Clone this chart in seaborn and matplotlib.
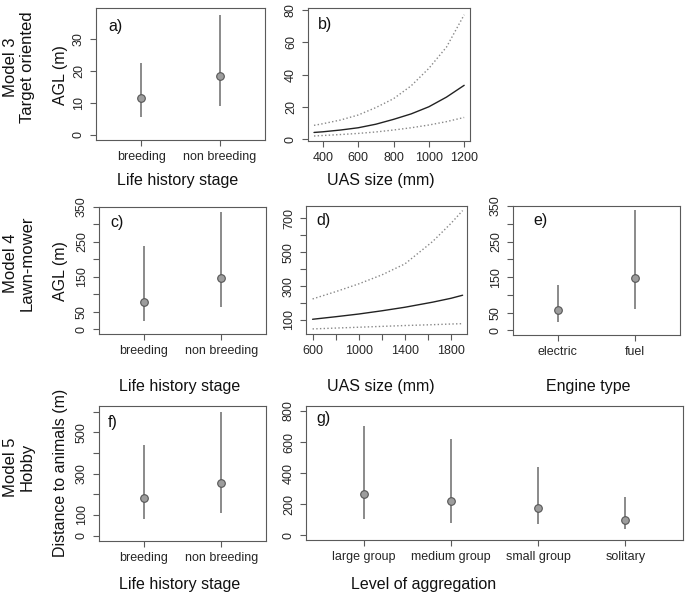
import matplotlib
matplotlib.use("Agg")
import matplotlib.pyplot as plt
import seaborn as sns
import numpy as np

# ---- data ----
# a) Model 3, life history stage
stage_labels = ["breeding", "non breeding"]
a_mean = [11.5, 18.5]
a_low = [5.5, 9.0]
a_high = [22.5, 37.5]

# b) Model 3, UAS size
b_size = [350, 400, 500, 600, 700, 800, 900, 1000, 1100, 1200]
b_mean = [4.1, 4.5, 5.6, 7.0, 9.2, 12.2, 15.6, 20.0, 26.0, 33.3]
b_upper = [8.5, 9.5, 11.8, 14.9, 19.5, 25.0, 33.0, 43.8, 57.0, 77.0]
b_lower = [1.9, 2.2, 2.8, 3.5, 4.4, 5.6, 7.0, 8.7, 10.8, 13.4]

# c) Model 4, life history stage
c_mean = [78, 147]
c_low = [25, 63]
c_high = [238, 336]

# d) Model 4, UAS size
d_size = [600, 800, 1000, 1200, 1400, 1640, 1800, 1900]
d_mean = [104, 119, 135, 154, 175, 205, 228, 246]
d_upper = [224, 267, 313, 366, 431, 563, 671, 746]
d_lower = [47, 52, 57, 62, 67, 72, 76, 78]

# e) Model 4, engine type
engine_labels = ["electric", "fuel"]
e_mean = [57, 146]
e_low = [24, 60]
e_high = [127, 339]

# f) Model 5, life history stage
f_mean = [180, 254]
f_low = [81, 110]
f_high = [440, 597]

# g) Model 5, level of aggregation
group_labels = ["large group", "medium group", "small group", "solitary"]
g_mean = [266, 221, 178, 99]
g_low = [103, 82, 73, 43]
g_high = [704, 620, 438, 245]

# ---- styling ----
sns.set_style("white")
plt.rcParams['font.family'] = ['Liberation Sans', 'DejaVu Sans']

W, H = 685, 595
fig = plt.figure(figsize=(W / 100, H / 100), dpi=100, facecolor='white')

box_color = '#5a5a5a'
tick_fs = 9
label_fs = 11.5


def make_ax(x0, y0, x1, y1):
    # pixel box (top-left origin) -> figure axes
    ax = fig.add_axes([x0 / W, 1 - y1 / H, (x1 - x0) / W, (y1 - y0) / H])
    for sp in ax.spines.values():
        sp.set_visible(True)
        sp.set_color(box_color)
        sp.set_linewidth(0.8)
    ax.tick_params(axis='both', direction='out', length=4, width=0.8,
                   color=box_color, labelsize=tick_fs, pad=4,
                   left=True, bottom=True)
    return ax


def set_yticks(ax, ticks, shown):
    ax.set_yticks(ticks)
    ax.set_yticklabels([str(t) if t in shown else "" for t in ticks],
                       rotation=90, va='center')


def set_xticks(ax, ticks, labels):
    ax.set_xticks(ticks)
    ax.set_xticklabels(labels)


def ci_plot(ax, mean, low, high):
    pos = np.arange(1, len(mean) + 1)
    ax.vlines(pos, low, high, color='#777777', linewidth=1.2, zorder=2)
    sns.scatterplot(x=pos, y=mean, ax=ax, s=30, color='#9d9d9d',
                    edgecolor='#555555', linewidth=0.8, zorder=3)
    n = len(mean)
    pad = 0.04 * n
    ax.set_xlim(0.5 - pad, n + 0.5 + pad)


def curve_plot(ax, x, mean, lower, upper):
    sns.lineplot(x=x, y=mean, ax=ax, color='#222222', linewidth=1.0)
    sns.lineplot(x=x, y=upper, ax=ax, color='#888888', linewidth=1.0, linestyle=':')
    sns.lineplot(x=x, y=lower, ax=ax, color='#888888', linewidth=1.0, linestyle=':')


def ftext(x, y, s, **kw):
    fig.text(x / W, 1 - y / H, s, **kw)


# ---- row 1: Model 3 ----
ax_a = make_ax(96, 8, 265, 140)
ci_plot(ax_a, a_mean, a_low, a_high)
ax_a.set_ylim(-1.6, 39.7)
set_yticks(ax_a, [0, 10, 20, 30], [0, 10, 20, 30])
set_xticks(ax_a, [1, 2], stage_labels)

ax_b = make_ax(308, 8, 470, 141)
curve_plot(ax_b, b_size, b_mean, b_lower, b_upper)
ax_b.set_xlim(316, 1233)
ax_b.set_ylim(-1.2, 81.2)
set_yticks(ax_b, [0, 20, 40, 60, 80], [0, 20, 40, 60, 80])
set_xticks(ax_b, [400, 600, 800, 1000, 1200], ["400", "600", "800", "1000", "1200"])

# ---- row 2: Model 4 ----
ax_c = make_ax(99, 207, 266, 334)
ci_plot(ax_c, c_mean, c_low, c_high)
ax_c.set_ylim(-13, 350)
set_yticks(ax_c, list(range(0, 351, 50)), [0, 50, 150, 250, 350])
set_xticks(ax_c, [1, 2], stage_labels)

ax_d = make_ax(306, 206, 467, 334)
curve_plot(ax_d, d_size, d_mean, d_lower, d_upper)
ax_d.set_xlim(543, 1938)
ax_d.set_ylim(17, 773)
set_yticks(ax_d, list(range(100, 701, 100)), [100, 300, 500, 700])
set_xticks(ax_d, list(range(600, 1801, 200)),
           ["600", "", "1000", "", "1400", "", "1800"])

ax_e = make_ax(513, 206, 680, 335)
ci_plot(ax_e, e_mean, e_low, e_high)
ax_e.set_ylim(-13, 350)
set_yticks(ax_e, list(range(0, 351, 50)), [0, 50, 150, 250, 350])
set_xticks(ax_e, [1, 2], engine_labels)

# ---- row 3: Model 5 ----
ax_f = make_ax(99, 406, 266, 541)
ci_plot(ax_f, f_mean, f_low, f_high)
ax_f.set_ylim(-26, 628)
set_yticks(ax_f, list(range(0, 601, 100)), [0, 100, 300, 500])
set_xticks(ax_f, [1, 2], stage_labels)

ax_g = make_ax(306, 406, 683, 540)
ci_plot(ax_g, g_mean, g_low, g_high)
ax_g.set_ylim(-30, 832)
set_yticks(ax_g, list(range(0, 801, 200)), list(range(0, 801, 200)))
set_xticks(ax_g, [1, 2, 3, 4], group_labels)

for ax in [ax_a, ax_b, ax_c, ax_d, ax_e, ax_f, ax_g]:
    ax.set_xlabel("")
    ax.set_ylabel("")

# ---- panel letters ----
for x, y, s in [(108, 26, "a)"), (318, 25, "b)"), (110, 222, "c)"),
                (316, 220, "d)"), (533, 220, "e)"), (108, 422, "f)"),
                (316, 418, "g)")]:
    ftext(x, y, s, fontsize=label_fs, ha='left', va='center', color='#111111')

# ---- axis labels ----
for x, y, s in [(178, 180, "Life history stage"), (381, 180, "UAS size (mm)"),
                (180, 387, "Life history stage"), (381, 387, "UAS size (mm)"),
                (588, 387, "Engine type"), (180, 585, "Life history stage"),
                (424, 585, "Level of aggregation")]:
    ftext(x, y, s, fontsize=label_fs, ha='center', va='center', color='#111111')

for y, s in [(75, "AGL (m)"), (271, "AGL (m)"), (473, "Distance to animals (m)")]:
    ftext(60, y, s, fontsize=label_fs, ha='center', va='center', rotation=90,
          color='#111111')

# ---- row labels ----
for y, s in [(67, "Model 3\nTarget oriented"), (263, "Model 4\nLawn-mower"),
             (467, "Model 5\nHobby")]:
    ftext(19, y, s, fontsize=12, ha='center', va='center', rotation=90,
          linespacing=1.1, color='#111111')

plt.savefig("out.png", dpi=100, facecolor='white')
plt.close()
